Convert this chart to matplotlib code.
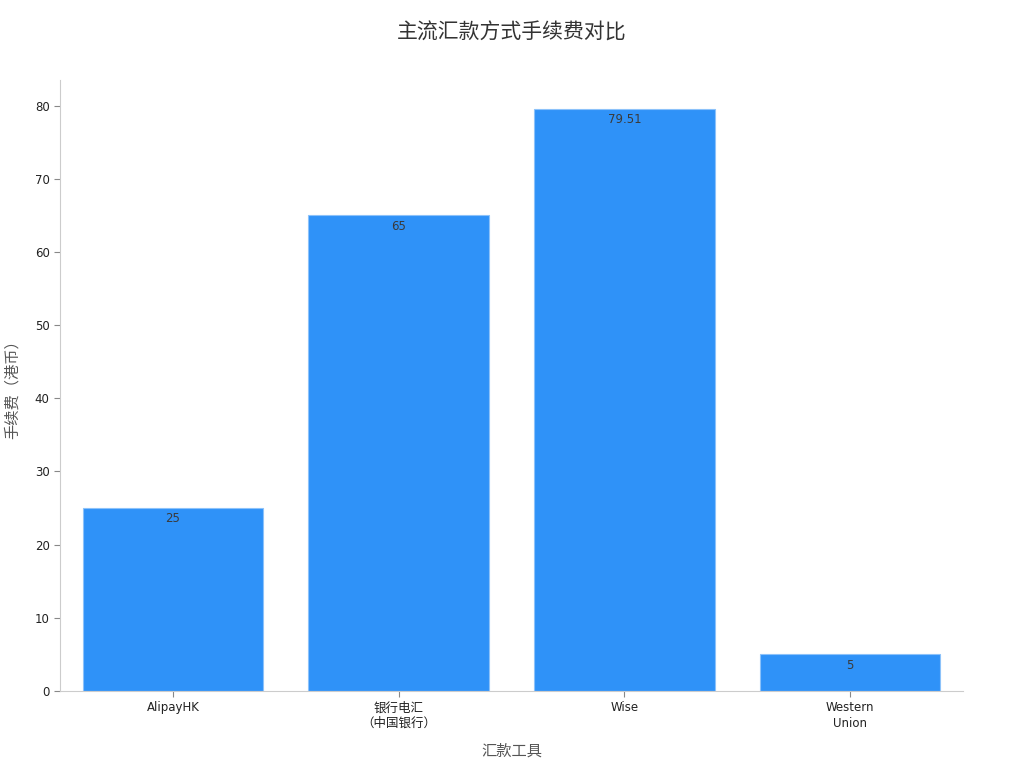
import matplotlib
matplotlib.use("Agg")
import matplotlib.pyplot as plt

plt.rcParams['font.family'] = ['DejaVu Sans', 'Noto Sans CJK SC']

categories = ["AlipayHK", "银行电汇\n（中国银行）", "Wise", "Western\nUnion"]
fees = [25, 65, 79.51, 5]
value_labels = ["25", "65", "79.51", "5"]

fig = plt.figure(figsize=(10.24, 7.68), dpi=100)
ax = fig.add_axes([0.0586, 0.1003, 0.8818, 0.7955])

x = list(range(len(categories)))
bars = ax.bar(x, fees, width=0.8, color='#2F92F8', edgecolor='#8CC2FA', linewidth=0.8)

for xi, v, lab in zip(x, fees, value_labels):
    ax.annotate(lab, (xi, v), xytext=(0, -3), textcoords='offset points',
                ha='center', va='top', fontsize=8.5, color='#3a3a3a')

ax.set_xlim(-0.5, 3.5)
ax.set_ylim(0, 83.5)
ax.set_yticks([0, 10, 20, 30, 40, 50, 60, 70, 80])
ax.set_xticks(x)
ax.set_xticklabels(categories, fontsize=8.5, color='#222222', linespacing=1.3)
for t, lab in zip(ax.get_xticklabels(), categories):
    if any(ord(c) > 0x2000 for c in lab):
        t.set_family(['Noto Sans CJK SC', 'DejaVu Sans'])
        t.set_fontsize(9)
        t.set_linespacing(1.2)
ax.tick_params(axis='y', labelsize=8.5, labelcolor='#222222', color='#888888', length=4)
ax.tick_params(axis='x', color='#888888', length=4)

for s in ['top', 'right']:
    ax.spines[s].set_visible(False)
for s in ['left', 'bottom']:
    ax.spines[s].set_color('#cccccc')

ax.set_xlabel("汇款工具", fontsize=11, color='#555555', labelpad=9,
              family=['Noto Sans CJK SC', 'DejaVu Sans'])
ax.set_ylabel("手续费（港币）", fontsize=11, color='#555555', labelpad=10,
              family=['Noto Sans CJK SC', 'DejaVu Sans'])
fig.text(0.5, 0.957, "主流汇款方式手续费对比", ha='center', va='center', fontsize=15,
         color='#333333', family=['Noto Sans CJK SC', 'DejaVu Sans'])

fig.savefig("out.png", dpi=100)
